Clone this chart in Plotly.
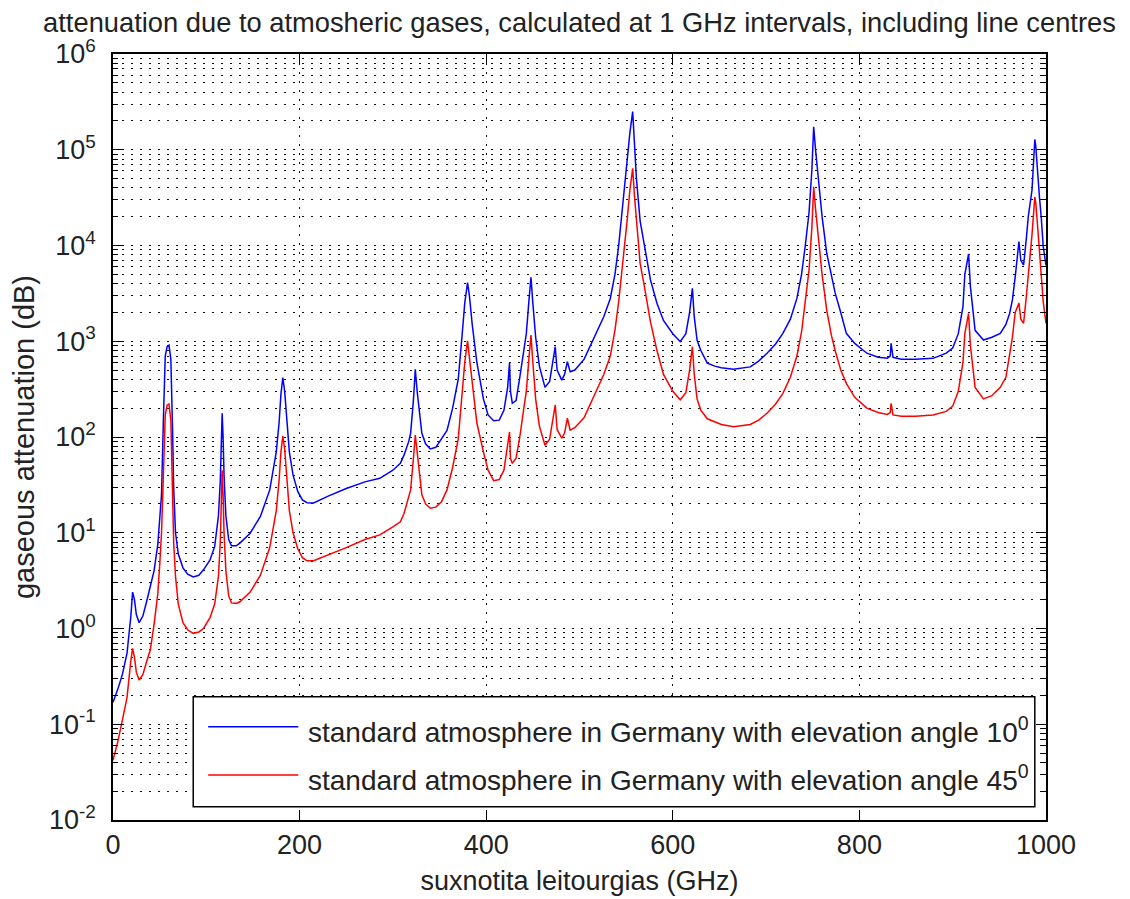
import plotly.graph_objects as go

# ---------------- data ----------------
freq_ghz = [
    0, 5, 10, 15, 19, 21, 23, 25, 28, 32,
    36, 40, 44, 48, 50, 52, 54, 56, 58, 60,
    62, 63, 64, 65, 67, 70, 75, 80, 86, 92,
    97, 104, 109, 113, 115, 116, 117, 118, 119, 121,
    124, 127, 132, 136, 147, 158, 168, 175, 178, 180,
    182, 184, 186, 189, 193, 198, 203, 208, 215, 230,
    250, 270, 286, 300, 308, 312, 317, 319, 322, 324,
    326, 328, 331, 335, 340, 346, 352, 358, 364, 370,
    374, 377, 380, 382, 385, 390, 397, 402, 408, 414,
    419, 423, 425, 426, 428, 432, 436, 440, 443, 446,
    448, 450, 453, 457, 463, 468, 471, 474, 476, 481,
    484, 487, 490, 495, 505, 518, 526, 533, 538, 542,
    546, 551, 554, 557, 559, 561, 565, 569, 576, 583,
    590, 600, 608, 614, 618, 621, 623, 626, 630, 637,
    645, 652, 665, 683, 692, 701, 710, 718, 726, 733,
    738, 742, 746, 749, 751, 753, 756, 760, 765, 770,
    774, 780, 786, 795, 808, 820, 830, 833, 834, 836,
    845, 860, 879, 893, 900, 906, 911, 913, 917, 919,
    924, 933, 942, 951, 957, 961, 964, 967, 969, 971,
    973, 976, 979, 981, 985, 988, 989, 991, 993, 995,
    997, 1000,
]

att_10deg = [
    0.17, 0.23, 0.33, 0.55, 1.3, 2.4, 2.0, 1.4, 1.15, 1.35,
    1.9, 2.7, 4.0, 7.5, 13, 25, 150, 700, 880, 910,
    650, 300, 100, 30, 10, 6, 4.3, 3.7, 3.45, 3.6,
    4.1, 5.2, 7.2, 15, 35, 80, 177, 100, 40, 15,
    8.5, 7.3, 7.3, 7.8, 9.9, 14.8, 28, 70, 140, 280,
    417, 300, 150, 70, 40, 27, 22, 20.6, 20.5, 24,
    29, 34, 37, 45, 53, 65, 90, 110, 243, 509,
    300, 200, 110, 85, 75, 78, 95, 117, 200, 400,
    1100, 2500, 4090, 3000, 1500, 600, 250, 170, 148, 150,
    190, 330, 597, 300, 225, 240, 420, 750, 1200, 2800,
    4660, 2500, 1100, 550, 330, 380, 600, 877, 500, 393,
    450, 611, 481, 500, 650, 1210, 1800, 2800, 5000, 10000,
    25000, 70000, 150000, 250000, 120000, 50000, 18000, 11000, 4400, 2500,
    1650, 1200, 990, 1200, 2000, 3570, 1800, 1030, 800, 590,
    550, 530, 509, 540, 620, 750, 930, 1210, 1700, 2800,
    5000, 10000, 22000, 60000, 174000, 100000, 48000, 20000, 8300, 4800,
    3200, 2000, 1210, 950, 750, 680, 665, 700, 950, 680,
    650, 650, 663, 750, 850, 1200, 2300, 5000, 8150, 3700,
    1300, 1030, 1100, 1210, 1500, 1950, 2700, 4700, 7000, 11000,
    7000, 6250, 12000, 20000, 38000, 128000, 110000, 55000, 32000, 19000,
    9800, 6200,
]

att_45deg = [
    0.042, 0.065, 0.11, 0.19, 0.45, 0.62, 0.5, 0.35, 0.29, 0.33,
    0.45, 0.6, 1.1, 2.3, 4.5, 10, 40, 170, 215, 221,
    150, 60, 20, 8, 3.5, 1.8, 1.15, 0.97, 0.89, 0.92,
    1.0, 1.3, 1.8, 3.5, 8, 20, 45, 25, 10, 4,
    2.2, 1.85, 1.83, 1.9, 2.4, 3.6, 7, 17, 35, 70,
    102, 75, 38, 17, 10, 6.8, 5.5, 5.1, 5.1, 5.8,
    7.0, 8.5, 9.5, 11.5, 13, 16, 23, 28, 60, 105,
    70, 45, 25, 20, 18, 18.5, 21, 28, 48, 95,
    260, 600, 1010, 700, 350, 140, 70, 45, 35, 36,
    45, 80, 113, 60, 53, 60, 100, 190, 300, 700,
    1160, 600, 250, 130, 82, 95, 150, 216, 120, 97,
    110, 157, 118, 125, 160, 300, 450, 700, 1300, 2600,
    6000, 18000, 38000, 64000, 32000, 18000, 6500, 4000, 1600, 800,
    450, 300, 245, 290, 500, 877, 450, 250, 191, 155,
    145, 135, 128, 135, 150, 177, 220, 286, 420, 700,
    1250, 2500, 5500, 15000, 41000, 24000, 12000, 5000, 2100, 1150,
    800, 500, 363, 260, 200, 180, 172, 180, 225, 170,
    165, 165, 170, 185, 210, 300, 600, 1200, 1950, 900,
    330, 250, 270, 330, 420, 700, 1100, 2000, 2300, 2500,
    1700, 1540, 3000, 4700, 13000, 32000, 28000, 16000, 9000, 5000,
    2600, 1540,
]

series_names = [
    "standard atmosphere in Germany with elevation angle 10<sup>0</sup>",
    "standard atmosphere in Germany with elevation angle 45<sup>0</sup>",
]
series_colors = ["#0000FF", "#FF0000"]

x_ticks = [0, 200, 400, 600, 800, 1000]
y_exponents = [-2, -1, 0, 1, 2, 3, 4, 5, 6]
y_ticks = [10.0 ** e for e in y_exponents]
y_ticktext = ["10<sup>%d</sup>" % e for e in y_exponents]
y_minor = [m * 10.0 ** e for e in y_exponents[:-1] for m in range(2, 10)]

title_text = ("attenuation due to atmosheric gases, calculated at 1 GHz intervals, "
              "including line centres")
x_title = "suxnotita leitourgias (GHz)"
y_title = "gaseous attenuation (dB)"

FONT = "Liberation Sans, Arial, sans-serif"
TXT = "#222222"
GRID = "#111111"
DOT = "2px,7px"

# ---------------- figure ----------------
fig = go.Figure()
for vals, name, col in zip([att_10deg, att_45deg], series_names, series_colors):
    fig.add_trace(go.Scatter(x=freq_ghz, y=vals, mode="lines", name=name,
                             line=dict(color=col, width=1.5), showlegend=False))

fig.update_layout(
    width=1130, height=899,
    margin=dict(l=105, r=92, t=46, b=87),
    plot_bgcolor="white", paper_bgcolor="white",
    font=dict(family=FONT, color=TXT, size=26),
    title=dict(text=title_text, x=0.5, xref="paper", xanchor="center",
               y=1 - 14 / 899, yref="container", yanchor="middle",
               font=dict(family=FONT, size=27.3, color=TXT)),
)

fig.update_xaxes(
    range=[0, 1000], tickvals=x_ticks, ticks="inside", ticklen=10,
    tickcolor="black", tickwidth=1.2,
    showline=True, linecolor="black", linewidth=1.5, mirror="ticks",
    showgrid=True, gridcolor=GRID, griddash=DOT, gridwidth=1.2,
    zeroline=False, tickfont=dict(size=27, family=FONT, color=TXT),
    title=dict(text=x_title, font=dict(size=27, family=FONT, color=TXT), standoff=12),
)
fig.update_yaxes(
    type="log", range=[-2, 6], tickvals=y_ticks, ticktext=y_ticktext,
    ticks="inside", ticklen=10, tickcolor="black", tickwidth=1.2,
    showline=True, linecolor="black", linewidth=1.5, mirror="ticks",
    showgrid=True, gridcolor=GRID, griddash=DOT, gridwidth=1.2,
    zeroline=False, tickfont=dict(size=27, family=FONT, color=TXT),
    ticklabelstandoff=10,
    title=dict(text=y_title, font=dict(size=29, family=FONT, color=TXT), standoff=6),
    minor=dict(tickvals=y_minor, ticks="inside", ticklen=5, tickcolor="black",
               showgrid=True, gridcolor=GRID, griddash=DOT, gridwidth=1.2),
)

# ---------------- legend drawn as in the reference ----------------
fig.add_shape(type="rect", xref="paper", yref="paper", x0=0.086, x1=0.988,
              y0=0.0174, y1=0.161, line=dict(color="black", width=1.5),
              fillcolor="white", layer="above")
for i, (name, col) in enumerate(zip(series_names, series_colors)):
    ly = [0.1218, 0.0587][i]
    fig.add_shape(type="line", xref="paper", yref="paper", x0=0.102, x1=0.1986,
                  y0=ly, y1=ly, line=dict(color=col, width=1.5), layer="above")
    fig.add_annotation(xref="paper", yref="paper", x=0.2069, y=ly - 0.004, xanchor="left",
                       yanchor="middle", showarrow=False, text=name,
                       font=dict(size=28, family=FONT, color=TXT))

fig.write_html("out.html")
